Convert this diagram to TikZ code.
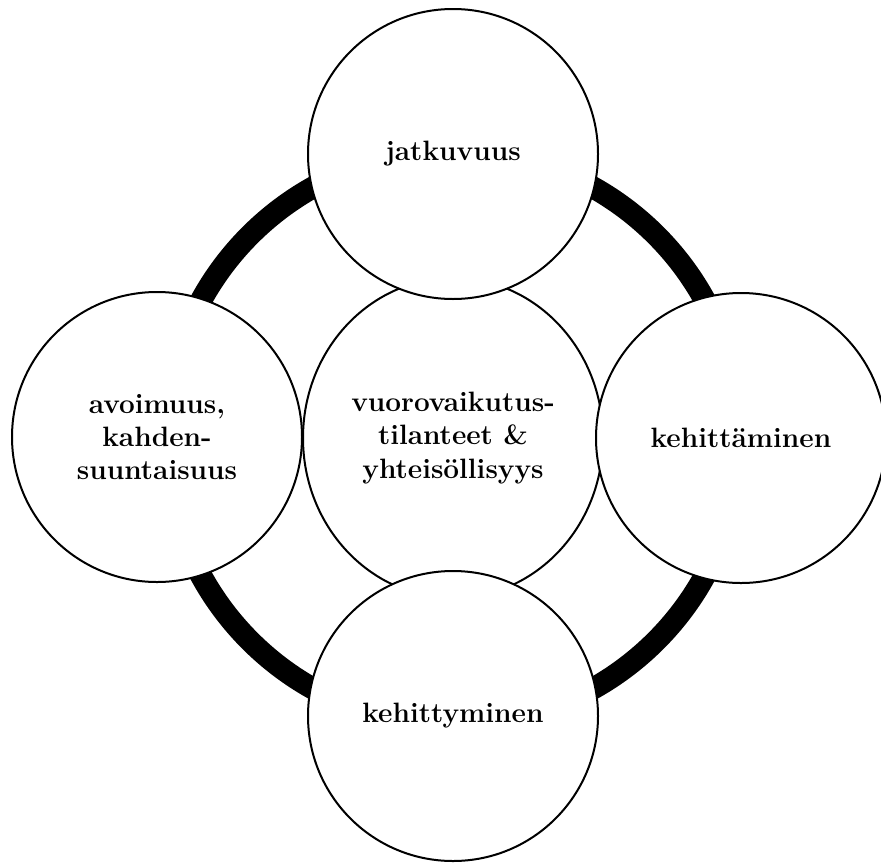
\documentclass[tikz,border=0pt]{standalone}
\usetikzlibrary{shapes.geometric}
\begin{document}
\begin{tikzpicture}[x=0.75pt,y=-0.75pt,
  every node/.style={font=\fontsize{21}{25}\selectfont\bfseries, align=center, inner sep=0pt},
  petal/.style={circle, draw=black, line width=1.5pt, fill=white, minimum size=217.5pt},
  hub/.style={ellipse, draw=black, line width=1.5pt, fill=white, minimum width=225pt, minimum height=240pt},
  ring/.style={draw=black, line width=16.5pt}]
  \useasboundingbox (0,0) rectangle (881,864);
  % connecting ring behind all circles
  \coordinate (o) at (453,438);
  \draw[ring] (o) circle (287);
  % central ellipse
  \node[hub] (hub) at (453,438) {vuorovaikutus-\\tilanteet \&\\yhteisöllisyys};
  % outer circles
  \node[petal] (top) at (453,154) {jatkuvuus};
  \node[petal] (left) at (157,437) {avoimuus,\\kahden-\\suuntaisuus};
  \node[petal] (right) at (741,438) {kehittäminen};
  \node[petal] (bottom) at (453,716) {kehittyminen};
\end{tikzpicture}
\end{document}
